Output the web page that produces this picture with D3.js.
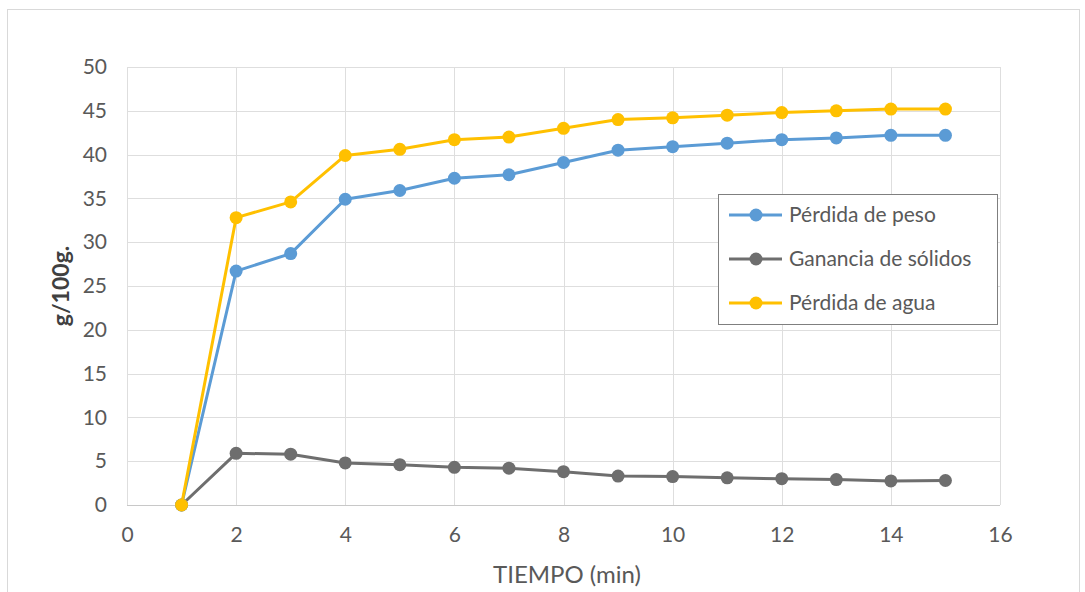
<!DOCTYPE html>
<html>
<head>
<meta charset="utf-8">
<script src="https://cdn.jsdelivr.net/npm/d3@7/dist/d3.min.js"></script>
<style>
  html, body { margin: 0; padding: 0; background: #fff; }
  svg { display: block; }
  text { font-family: Lato, "Open Sans", sans-serif; }
</style>
</head>
<body>
<svg id="chart" width="1085" height="592"></svg>
<script>
// Tiempo (min)
const tiempo = [1, 2, 3, 4, 5, 6, 7, 8, 9, 10, 11, 12, 13, 14, 15];
// g/100g por serie
const perdidaPeso = [0, 26.7, 28.7, 34.9, 35.9, 37.3, 37.7, 39.1, 40.5, 40.9, 41.3, 41.7, 41.9, 42.2, 42.2];
const gananciaSolidos = [0, 5.9, 5.8, 4.8, 4.6, 4.3, 4.2, 3.8, 3.3, 3.25, 3.1, 3.0, 2.9, 2.75, 2.8];
const perdidaAgua = [0, 32.8, 34.6, 39.9, 40.6, 41.7, 42.0, 43.0, 44.0, 44.2, 44.5, 44.8, 45.0, 45.2, 45.2];

const seriesNames = ["Pérdida de peso", "Ganancia de sólidos", "Pérdida de agua"];
const seriesColors = ["#5B9BD5", "#6E6E6E", "#FFC000"];
const xTicks = [0, 2, 4, 6, 8, 10, 12, 14, 16];
const yTicks = [0, 5, 10, 15, 20, 25, 30, 35, 40, 45, 50];

const seriesValues = [perdidaPeso, gananciaSolidos, perdidaAgua];

const svg = d3.select("#chart");

// outer chart frame
svg.append("rect")
  .attr("x", 7.5).attr("y", 9.5)
  .attr("width", 1072).attr("height", 600)
  .attr("fill", "#fff").attr("stroke", "#d9d9d9").attr("stroke-width", 1);

const x = d3.scaleLinear().domain([0, 16]).range([127, 1000]);
const y = d3.scaleLinear().domain([0, 50]).range([505, 67]);

// gridlines
const grid = svg.append("g");
grid.selectAll("line.h").data(yTicks).join("line")
  .attr("x1", x(0)).attr("x2", x(16))
  .attr("y1", d => Math.round(y(d)) + 0.5).attr("y2", d => Math.round(y(d)) + 0.5)
  .attr("stroke", d => d === 0 ? "#c8c8c8" : "#dedede").attr("stroke-width", 1);
grid.selectAll("line.v").data(xTicks).join("line")
  .attr("y1", y(0)).attr("y2", y(50))
  .attr("x1", d => Math.round(x(d)) + 0.5).attr("x2", d => Math.round(x(d)) + 0.5)
  .attr("stroke", "#dedede").attr("stroke-width", 1);

// axes (labels only)
const yAxis = svg.append("g")
  .attr("transform", `translate(${x(0)},0)`)
  .call(d3.axisLeft(y).tickValues(yTicks).tickSize(0).tickPadding(20));
const xAxis = svg.append("g")
  .attr("transform", `translate(0,${y(0)})`)
  .call(d3.axisBottom(x).tickValues(xTicks).tickSize(0).tickPadding(22));
[yAxis, xAxis].forEach(a => {
  a.select(".domain").remove();
  a.selectAll("text")
    .attr("fill", "#595959")
    .style("font-size", "21px")
    .style("font-family", "Lato, 'Open Sans', sans-serif");
});

// axis titles
svg.append("text")
  .attr("x", 567).attr("y", 583)
  .attr("text-anchor", "middle")
  .attr("fill", "#595959")
  .style("font-size", "24px")
  .text("TIEMPO (min)");

svg.append("text")
  .attr("transform", `translate(69,${(y(0) + y(50)) / 2}) rotate(-90)`)
  .attr("text-anchor", "middle")
  .attr("fill", "#404040")
  .style("font-size", "23px")
  .style("font-weight", "bold")
  .text("g/100g.");

// series lines and markers
const line = d3.line().x(d => x(d[0])).y(d => y(d[1]));
const order = [1, 0, 2];
order.forEach(i => {
  const pts = tiempo.map((t, j) => [t, seriesValues[i][j]]);
  const g = svg.append("g");
  g.append("path")
    .attr("d", line(pts))
    .attr("fill", "none")
    .attr("stroke", seriesColors[i])
    .attr("stroke-width", 3)
    .attr("stroke-linejoin", "round");
  g.selectAll("circle").data(pts).join("circle")
    .attr("cx", d => x(d[0])).attr("cy", d => y(d[1]))
    .attr("r", 6.5)
    .attr("fill", seriesColors[i]);
});

// legend
const lg = svg.append("g");
lg.append("rect")
  .attr("x", 718.5).attr("y", 194.5)
  .attr("width", 279).attr("height", 130)
  .attr("fill", "#fff").attr("stroke", "#7f7f7f").attr("stroke-width", 1);
seriesNames.forEach((name, i) => {
  const cy = 215 + i * 44;
  lg.append("line")
    .attr("x1", 729).attr("x2", 782).attr("y1", cy).attr("y2", cy)
    .attr("stroke", seriesColors[i]).attr("stroke-width", 3);
  lg.append("circle")
    .attr("cx", 756).attr("cy", cy).attr("r", 6.5)
    .attr("fill", seriesColors[i]);
  lg.append("text")
    .attr("x", 789).attr("y", cy + 7)
    .attr("fill", "#595959")
    .style("font-size", "21px")
    .text(name);
});
</script>
</body>
</html>
